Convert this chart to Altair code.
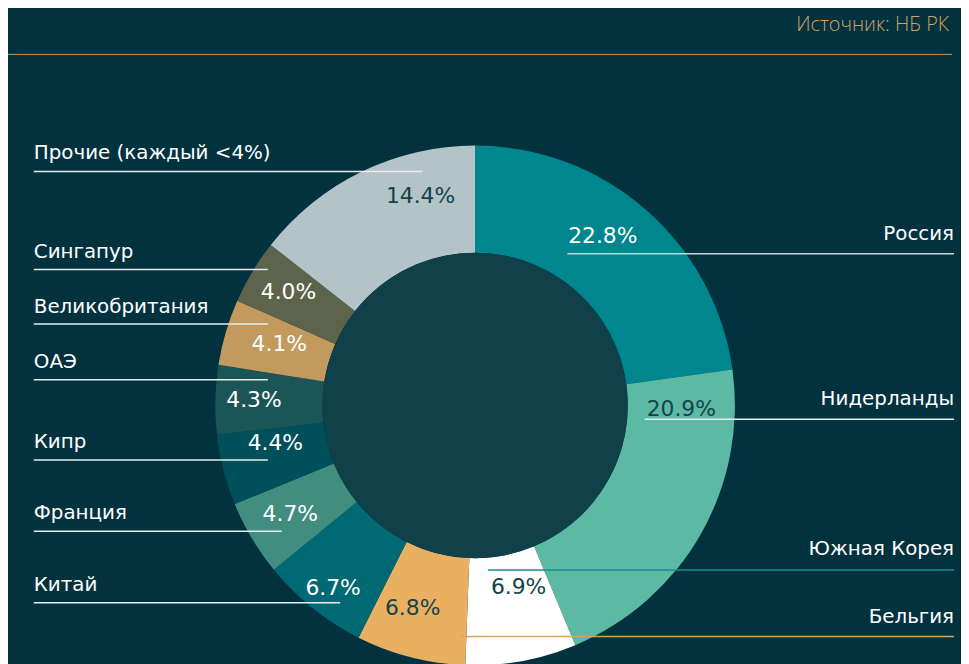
import math
import altair as alt
import pandas as pd

# ---- data -------------------------------------------------------------
countries = ["Россия", "Нидерланды", "Южная Корея", "Бельгия", "Китай", "Франция",
             "Кипр", "ОАЭ", "Великобритания", "Сингапур", "Прочие (каждый <4%)"]
shares = [22.8, 20.9, 6.9, 6.8, 6.7, 4.7, 4.4, 4.3, 4.1, 4.0, 14.4]
share_labels = ["22.8%", "20.9%", "6.9%", "6.8%", "6.7%", "4.7%", "4.4%", "4.3%",
                "4.1%", "4.0%", "14.4%"]
source_text = "Источник: НБ РК"

# ---- styles -----------------------------------------------------------
slice_colors = ["#00868f", "#5cbaa4", "#ffffff", "#e9b062", "#006a74", "#418e80",
                "#00505c", "#1b5556", "#c39a5d", "#5e634b", "#b4c3c8"]
label_colors = ["#ffffff", "#12434b", "#12434b", "#12434b", "#ffffff", "#ffffff",
                "#ffffff", "#ffffff", "#ffffff", "#ffffff", "#12434b"]
# label placement inside the ring: position along the turn (0-100) and radius
label_turn = [10.28, 25.31, 46.25, 54.75, 60.53, 66.56, 72.03, 75.36, 79.86, 83.67, 95.94]
label_radius = [214, 208, 188, 214, 233, 216, 205, 223, 207, 220, 218]

# annotation rows (category names with underline)
name_side = ["right", "right", "right", "right", "left", "left", "left", "left",
             "left", "left", "left"]
name_baseline = [231, 398, 549, 617, 585, 513, 441, 360, 305, 249, 150]
line_y = [245, 412, 564, 631, 597, 525, 453, 372, 316, 261, 162]
line_x1 = [564, 642, 484, 457, 26, 26, 26, 26, 26, 26, 26]
line_x2 = [954, 954, 954, 954, 335, 276, 262, 262, 262, 262, 418]
line_colors = ["#c9d3d6", "#e6ecee", "#1b8c92", "#d8a561", "#e6ecee", "#e6ecee",
               "#e6ecee", "#e6ecee", "#e6ecee", "#e6ecee", "#e6ecee"]

W, H = 961, 656
CX, CY = 471, 398
R_OUT, R_IN = 262, 154
FONT = "DejaVu Sans"

df = pd.DataFrame({
    "country": countries, "share": shares, "label": share_labels,
    "color": slice_colors, "lcolor": label_colors, "idx": list(range(len(countries))),
    "lturn": label_turn, "lrad": label_radius,
})

ann = pd.DataFrame({
    "country": countries, "side": name_side, "ty": name_baseline,
    "ly": line_y, "lx1": line_x1, "lx2": line_x2, "lc": line_colors,
    "tx": [954 if s == "right" else 26 for s in name_side],
})

theta_scale = alt.Scale(domain=[0, 100], range=[0, 2 * math.pi])

ring = alt.Chart(df).mark_arc(innerRadius=R_IN, outerRadius=R_OUT).encode(
    theta=alt.Theta("share:Q", stack=True, scale=theta_scale),
    order=alt.Order("idx:Q"),
    color=alt.Color("color:N", scale=None),
    x=alt.value(CX), y=alt.value(CY),
)

center = alt.Chart(pd.DataFrame({"c": [1]})).mark_arc(
    innerRadius=0, outerRadius=R_IN, theta=0, theta2=2 * math.pi, color="#10414a"
).encode(x=alt.value(CX), y=alt.value(CY))

pct = alt.Chart(df).mark_text(font=FONT, fontSize=22, baseline="middle", align="center").encode(
    theta=alt.Theta("lturn:Q", stack=False, scale=theta_scale),
    radius=alt.Radius("lrad:Q", scale=None),
    text="label:N",
    color=alt.Color("lcolor:N", scale=None),
    x=alt.value(CX), y=alt.value(CY),
)

lines = alt.Chart(ann).mark_rule(strokeWidth=1.5).encode(
    x=alt.X("lx1:Q", scale=None), x2="lx2:Q",
    y=alt.Y("ly:Q", scale=None),
    color=alt.Color("lc:N", scale=None),
)

names_left = alt.Chart(ann).transform_filter("datum.side == 'left'").mark_text(
    font=FONT, fontSize=20, align="left", baseline="alphabetic", color="#ffffff"
).encode(x=alt.X("tx:Q", scale=None), y=alt.Y("ty:Q", scale=None), text="country:N")

names_right = alt.Chart(ann).transform_filter("datum.side == 'right'").mark_text(
    font=FONT, fontSize=20, align="right", baseline="alphabetic", color="#ffffff"
).encode(x=alt.X("tx:Q", scale=None), y=alt.Y("ty:Q", scale=None), text="country:N")

src = alt.Chart(pd.DataFrame({"t": [source_text]})).mark_text(
    font="Open Sans", fontSize=20, fontWeight=300, align="right", baseline="alphabetic",
    color="#cfa362"
).encode(x=alt.value(949), y=alt.value(20), text="t:N")

topline = alt.Chart(pd.DataFrame({"c": [1]})).mark_rule(color="#d49a3c", strokeWidth=1).encode(
    x=alt.value(0), x2=alt.value(952), y=alt.value(44)
)

chart = alt.layer(ring, center, pct, lines, names_left, names_right, src, topline).properties(
    width=W, height=H, background="#03323f", padding=0,
    autosize=alt.AutoSizeParams(type="none"),
).configure_view(stroke=None)

chart.save("out.html", embed_options={"renderer": "svg", "actions": False})
